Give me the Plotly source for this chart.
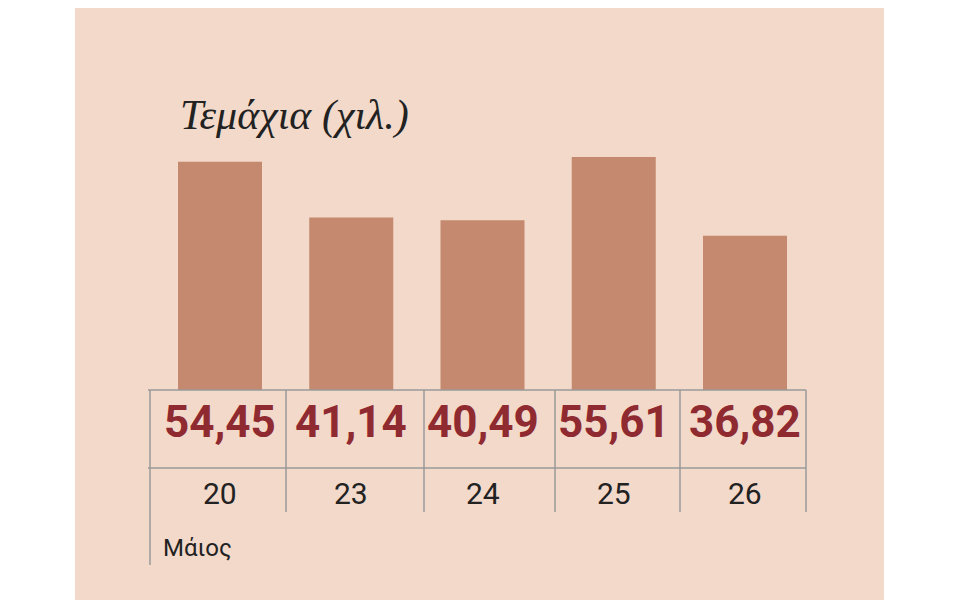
import plotly.graph_objects as go

days = ["20", "23", "24", "25", "26"]
values = [54.45, 41.14, 40.49, 55.61, 36.82]
labels = ["54,45", "41,14", "40,49", "55,61", "36,82"]
title = "Τεμάχια (χιλ.)"
month = "Μάιος"

W, H = 960, 600
O = 8  # page offset compensation
xs = list(range(len(days)))
fig = go.Figure(go.Bar(x=xs, y=values, width=0.64, marker_color="#c4896e", marker_line_width=0, hoverinfo="skip"))

def px(x): return (x - O) / W
def py(y): return 1 - (y - O) / H

shapes = [dict(type="rect", xref="paper", yref="paper", x0=px(75), x1=px(884), y0=-0.1, y1=1.1,
               fillcolor="#f2d9ca", line_width=0, layer="below")]
lc = "#9a9a9a"
for y in (390, 468):
    shapes.append(dict(type="line", xref="paper", yref="paper", x0=px(148), x1=px(806), y0=py(y), y1=py(y), line=dict(color=lc, width=1.5)))
for x in (150, 286, 424, 555, 680, 806):
    shapes.append(dict(type="line", xref="paper", yref="paper", x0=px(x), x1=px(x), y0=py(390), y1=py(565 if x == 150 else 512), line=dict(color=lc, width=1.5)))

ann = [dict(text="<i>" + title + "</i>", xref="paper", yref="paper", x=px(178), y=py(115), xanchor="left", yanchor="middle", showarrow=False,
            font=dict(family="Liberation Serif", size=42, color="#222"))]
for i, (d, l) in enumerate(zip(days, labels)):
    ann.append(dict(text="<b>" + l + "</b>", x=i, xref="x", yref="paper", y=py(450), showarrow=False,
                    font=dict(family="Roboto", size=44, color="#8e2a30")))
    ann.append(dict(text=d, x=i, xref="x", yref="paper", y=py(513), showarrow=False,
                    font=dict(family="Roboto", size=30, color="#222")))
ann.append(dict(text=month, xref="paper", yref="paper", x=px(161), y=py(564), xanchor="left", showarrow=False,
                font=dict(family="Roboto", size=24, color="#222")))

s = 4.19
fig.update_layout(width=W, height=H, margin=dict(l=0, r=0, t=0, b=0), paper_bgcolor="white", plot_bgcolor="rgba(0,0,0,0)",
                  showlegend=False, shapes=shapes, annotations=ann,
                  xaxis=dict(range=[-(220-O)/131.25, (W-(220-O))/131.25], visible=False, fixedrange=True),
                  yaxis=dict(range=[-(H-(390-O))/s, (390-O)/s], visible=False, fixedrange=True))
fig.write_html("out.html", config={"displayModeBar": False})
